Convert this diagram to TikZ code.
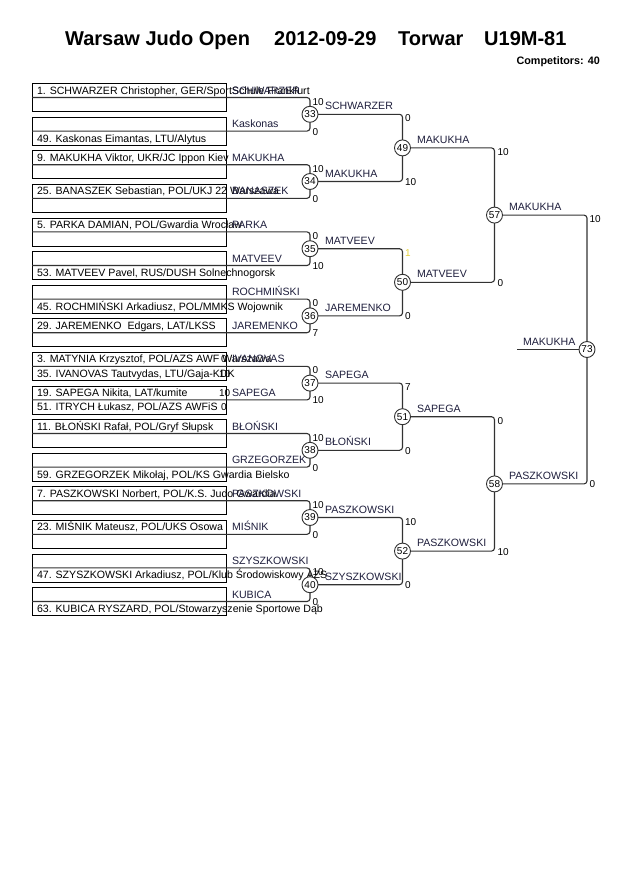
\documentclass[tikz,border=0pt]{standalone}
\usepackage{fontspec}
\setmainfont{Liberation Sans}
\definecolor{linec}{RGB}{50,50,50}
\definecolor{lblc}{RGB}{30,30,60}
\definecolor{ylw}{RGB}{230,210,60}
\begin{document}
\begin{tikzpicture}[x=1pt,y=-1pt,
  nm/.style={font=\fontsize{10.6}{12}\selectfont, anchor=base west, inner sep=0pt, outer sep=0pt},
  lb/.style={nm, text=lblc},
  sc/.style={font=\fontsize{10}{12}\selectfont, anchor=base west, inner sep=0pt, outer sep=0pt},
  mc/.style={circle, draw=linec, line width=0.9pt, fill=white, minimum size=16pt, inner sep=0pt, outer sep=0pt, font=\fontsize{10}{12}\selectfont},
  bx/.style={draw=black, line width=0.8pt, minimum width=194pt, minimum height=28pt, anchor=north west, inner sep=0pt, outer sep=0pt},
  br/.style={draw=linec, line width=1.1pt, rounded corners=3pt},
  ttl/.style={font=\fontsize{20}{24}\selectfont\bfseries, anchor=base west, inner sep=0pt},
]
\useasboundingbox (0,0) rectangle (630,891);
% title
\node[ttl] (t1) at (65,46) {Warsaw Judo Open};
\node[ttl] (t2) at (274,46) {2012-09-29};
\node[ttl] (t3) at (398,46) {Torwar};
\node[ttl] (t4) at (484,46) {U19M-81};
\node[font=\fontsize{10.8}{12}\selectfont\bfseries, anchor=base east, inner sep=0pt] (comp) at (600,64) {Competitors: 40};
% entry boxes
\foreach \i/\ra/\rb/\lab in {
 0/{1. SCHWARZER Christopher, GER/SportSchule Frankfurt}/{}/SCHWARZER,
 1/{}/{49. Kaskonas Eimantas, LTU/Alytus}/Kaskonas,
 2/{9. MAKUKHA Viktor, UKR/JC Ippon Kiev}/{}/MAKUKHA,
 3/{25. BANASZEK Sebastian, POL/UKJ 22 Warszawa}/{}/BANASZEK,
 4/{5. PARKA DAMIAN, POL/Gwardia Wrocław}/{}/PARKA,
 5/{}/{53. MATVEEV Pavel, RUS/DUSH Solnechnogorsk}/MATVEEV,
 6/{}/{45. ROCHMIŃSKI Arkadiusz, POL/MMKS Wojownik}/ROCHMIŃSKI,
 7/{29. JAREMENKO\hspace{3pt} Edgars, LAT/LKSS}/{}/JAREMENKO,
 8/{3. MATYNIA Krzysztof, POL/AZS AWF Warszawa}/{35. IVANOVAS Tautvydas, LTU/Gaja-KDK}/IVANOVAS,
 9/{19. SAPEGA Nikita, LAT/kumite}/{51. ITRYCH Łukasz, POL/AZS AWFiS}/SAPEGA,
 10/{11. BŁOŃSKI Rafał, POL/Gryf Słupsk}/{}/BŁOŃSKI,
 11/{}/{59. GRZEGORZEK Mikołaj, POL/KS Gwardia Bielsko}/GRZEGORZEK,
 12/{7. PASZKOWSKI Norbert, POL/K.S. Judo Gwardia}/{}/PASZKOWSKI,
 13/{23. MIŚNIK Mateusz, POL/UKS Osowa}/{}/MIŚNIK,
 14/{}/{47. SZYSZKOWSKI Arkadiusz, POL/Klub Środowiskowy AZS}/SZYSZKOWSKI,
 15/{}/{63. KUBICA RYSZARD, POL/Stowarzyszenie Sportowe Dąb}/KUBICA}{
  \pgfmathsetmacro\t{83.5+33.6*\i}
  \node[bx] (b\i) at (32,\t) {};
  \node[nm] (ra\i) at (37,\t+10.5) {\ra};
  \node[nm] (rb\i) at (37,\t+25) {\rb};
  \node[lb] (lb\i) at (232,\t+10.5) {\lab};
}
% pool scores inside boxes 8,9
\node[sc] (ps1) at (221,83.5+33.6*8+10.5) {0};
\node[sc] (ps2) at (219,83.5+33.6*8+25) {10};
\node[sc] (ps3) at (219,83.5+33.6*9+10.5) {10};
\node[sc] (ps4) at (221,83.5+33.6*9+25) {0};
% round 1 circles
\foreach \k/\n in {0/33,1/34,2/35,3/36,4/37,5/38,6/39,7/40}{
  \node[mc] (m\n) at (310,114.3+67.2*\k) {\n};
}
% round 2..final circles
\foreach \k/\n in {0/49,1/50,2/51,3/52}{
  \node[mc] (m\n) at (402.5,147.9+134.4*\k) {\n};
}
\node[mc] (m57) at (494.5,215.1) {57};
\node[mc] (m58) at (494.5,483.9) {58};
\node[mc] (m73) at (587,349.5) {73};
% round 1 connectors: box dividers to circles
\foreach \k/\n in {0/33,1/34,2/35,3/36,4/37,5/38,6/39,7/40}{
  \pgfmathtruncatemacro\u{2*\k}
  \pgfmathtruncatemacro\l{2*\k+1}
  \draw[br] (b\u.west) -- (m\n.north |- b\u.west) -- (m\n.north);
  \draw[br] (b\l.west) -- (m\n.south |- b\l.west) -- (m\n.south);
}
% later connectors
\foreach \a/\b/\c in {33/34/49,35/36/50,37/38/51,39/40/52,49/50/57,51/52/58,57/58/73}{
  \draw[br] (m\a.east) -- (m\c.north |- m\a.east) -- (m\c.north);
  \draw[br] (m\b.east) -- (m\c.south |- m\b.east) -- (m\c.south);
}
\coordinate (wend) at (517,349.5);
\draw[br] (m73.west) -- (wend);
% round 1 scores
\foreach \k/\n/\su/\sl in {0/33/10/0,1/34/10/0,2/35/0/10,3/36/0/7,4/37/0/10,5/38/10/0,6/39/10/0,7/40/10/0}{
  \pgfmathsetmacro\yu{83.5+67.2*\k+14}
  \pgfmathsetmacro\yl{83.5+67.2*\k+33.6+14}
  \node[sc] (su\n) at (312.5,\yu+7.6) {\su};
  \node[sc] (sl\n) at (312.5,\yl+4) {\sl};
}
% round 2 labels (winners of round 1)
\foreach \k/\n/\w in {0/33/SCHWARZER,1/34/MAKUKHA,2/35/MATVEEV,3/36/JAREMENKO,4/37/SAPEGA,5/38/BŁOŃSKI,6/39/PASZKOWSKI,7/40/SZYSZKOWSKI}{
  \node[lb] (w\n) at (325,114.3+67.2*\k-4.4) {\w};
}
% round 2 scores
\foreach \k/\n/\su/\sl in {0/49/0/10,2/51/7/0,3/52/10/0}{
  \pgfmathsetmacro\yu{114.3+134.4*\k}
  \pgfmathsetmacro\yl{114.3+134.4*\k+67.2}
  \node[sc] (su\n) at (405,\yu+7.6) {\su};
  \node[sc] (sl\n) at (405,\yl+4) {\sl};
}
\node[sc, text=ylw] (su50) at (405,248.7+7.6) {1};
\node[sc] (sl50) at (405,315.9+4) {0};
% round 3 labels
\foreach \k/\n/\w in {0/49/MAKUKHA,1/50/MATVEEV,2/51/SAPEGA,3/52/PASZKOWSKI}{
  \node[lb] (w\n) at (417,147.9+134.4*\k-4.4) {\w};
}
% round 3 scores
\node[sc] (su57) at (497.5,147.9+7.6) {10};
\node[sc] (sl57) at (497.5,282.3+4) {0};
\node[sc] (su58) at (497.5,416.7+7.6) {0};
\node[sc] (sl58) at (497.5,551.1+4) {10};
% final labels
\node[lb] (w57) at (509,215.1-4.4) {MAKUKHA};
\node[lb] (w58) at (509,483.9-4.4) {PASZKOWSKI};
\node[sc] (su73) at (589.5,215.1+7.6) {10};
\node[sc] (sl73) at (589.5,483.9+4) {0};
\node[lb] (w73) at (523,349.5-4.4) {MAKUKHA};
\end{tikzpicture}
\end{document}
